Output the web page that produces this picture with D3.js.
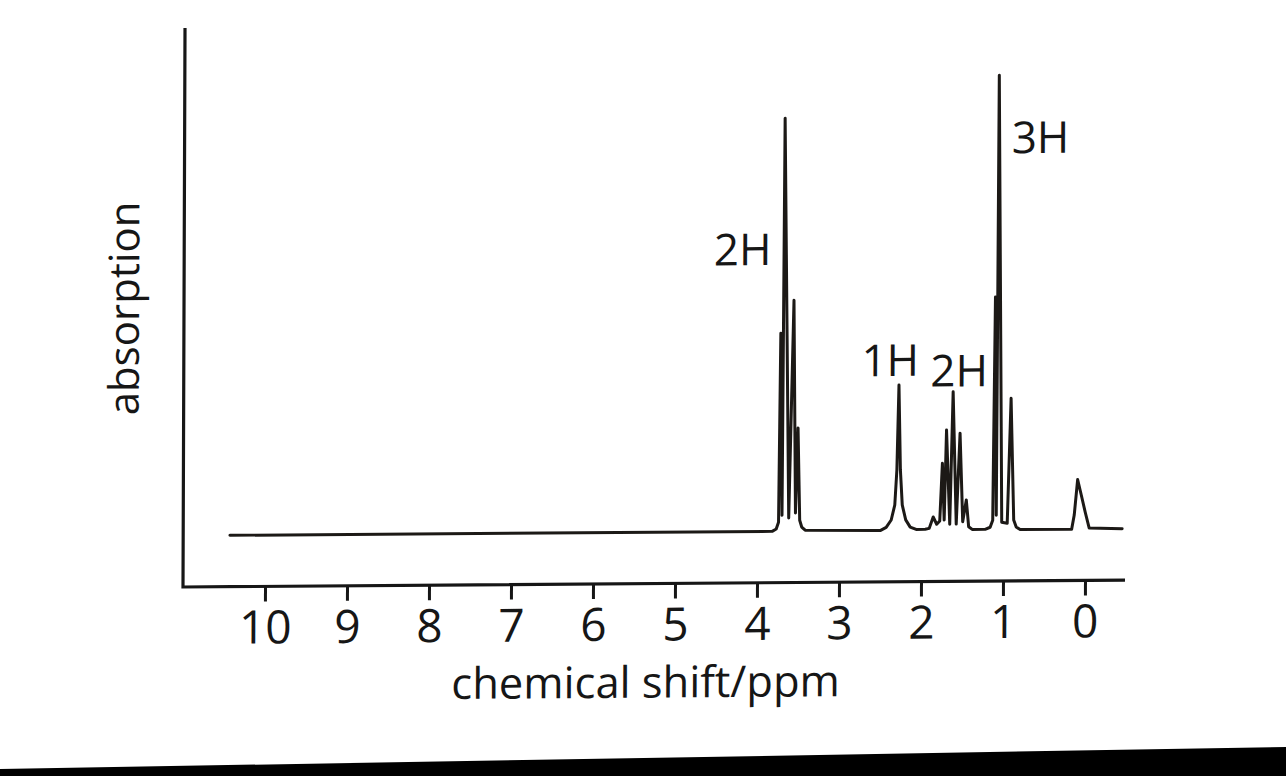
<!DOCTYPE html>
<html>
<head>
<meta charset="utf-8">
<script src="https://cdn.jsdelivr.net/npm/d3@7"></script>
<style>
  html, body { margin: 0; padding: 0; background: #fff; }
  svg { display: block; }
  text { font-family: "Open Sans", "Noto Sans", sans-serif; fill: #161616; }
</style>
</head>
<body>
<svg id="chart" width="1286" height="776"></svg>
<script>
// ---- data ----
const spectrumPpm = [
  10.43, 3.817, 3.768, 3.740, 3.720, 3.698, 3.677, 3.616, 3.561, 3.534, 3.506, 3.482, 3.457, 3.415,
  2.500, 2.427, 2.366, 2.323, 2.299, 2.277, 2.256, 2.232, 2.189, 2.134, 2.061,
  1.951, 1.902, 1.854, 1.811, 1.774, 1.744, 1.720, 1.695, 1.652, 1.616, 1.573, 1.530, 1.494, 1.451, 1.421, 1.378,
  1.220, 1.159, 1.128, 1.104, 1.085, 1.067, 1.018, 0.951, 0.909, 0.872, 0.841, 0.793,
  0.165, 0.134, 0.094, 0.049, 0.000, -0.049, -0.451
];
const spectrumAbs = [
  0, 0, 0.5, 2.0, 43.6, 3.5, 90.9, 2.9, 50.8, 4.0, 22.7, 2.4, 0.9, 0.2,
  0, 0.7, 2.3, 5.6, 13.3, 32.0, 13.3, 5.6, 2.3, 0.7, 0.2,
  0.2, 0.4, 2.9, 1.3, 2.0, 14.7, 2.2, 22.0, 1.3, 30.4, 1.3, 21.3, 1.8, 6.6, 0.7, 0.1,
  0.1, 0.55, 2.1, 51.2, 3.2, 100, 1.65, 1.4, 28.9, 2.1, 0.55, 0,
  0, 3.1, 10.9, 7.5, 3.7, 0.2, 0
];
const tickValues = [10, 9, 8, 7, 6, 5, 4, 3, 2, 1, 0];
const peakLabels = ["2H", "1H", "2H", "3H"];
const labelPpm = [4.19, 2.384, 1.543, 0.561];
const labelAbs = [58.6, 34.0, 31.6, 82.8];
const xTitle = "chemical shift/ppm";
const yTitle = "absorption";

// ---- layout ----
const svg = d3.select("#chart");
svg.append("rect").attr("width", 1286).attr("height", 776).attr("fill", "#fff");

// scan tilt of the printed page
const b = -0.0073, c = -0.0036;
const g = svg.append("g")
  .attr("transform", `matrix(1,${b},${c},1,${-c * 587},${-b * 183})`);

const x = d3.scaleLinear().domain([11.0, -0.488]).range([183, 1125]);
const y = d3.scaleLinear().domain([-11.3, 111.7]).range([587, 28]);

const ink = "#161616";

// axes frame
g.append("path")
  .attr("d", `M${x(11.0)},${y(111.7)} L${x(11.0)},${y(-11.3)} L${x(-0.488)},${y(-11.3)}`)
  .attr("fill", "none").attr("stroke", ink).attr("stroke-width", 3.2)
  .attr("stroke-linejoin", "miter");

// x axis ticks + labels
const xAxis = d3.axisBottom(x).tickValues(tickValues).tickSize(15).tickPadding(8)
  .tickFormat(d3.format("d"));
const ax = g.append("g").attr("transform", `translate(0,${y(-11.3)})`).call(xAxis);
ax.select(".domain").remove();
ax.selectAll(".tick line").attr("stroke", ink).attr("stroke-width", 3);
ax.selectAll(".tick text")
  .attr("y", null).attr("dy", null)
  .attr("transform", "translate(0,57)")
  .attr("font-size", 46).attr("fill", ink)
  .style("font-family", '"Open Sans", sans-serif');

// spectrum
const pts = spectrumPpm.map((p, i) => [p, spectrumAbs[i]]);
const line = d3.line().x(d => x(d[0])).y(d => y(d[1])).curve(d3.curveLinear);
g.append("path").datum(pts)
  .attr("d", line)
  .attr("fill", "none").attr("stroke", "#1c1916").attr("stroke-width", 3)
  .attr("stroke-linejoin", "round").attr("stroke-linecap", "round");

// peak integration labels
g.selectAll("text.peak").data(peakLabels).enter().append("text")
  .attr("class", "peak")
  .attr("x", (d, i) => x(labelPpm[i]))
  .attr("y", (d, i) => y(labelAbs[i]))
  .attr("text-anchor", "middle")
  .attr("font-size", 44)
  .text(d => d);

// axis titles
g.append("text")
  .attr("x", 646).attr("y", 701)
  .attr("text-anchor", "middle").attr("font-size", 43.5)
  .text(xTitle);

g.append("text")
  .attr("transform", "translate(138,308) rotate(-90)")
  .attr("text-anchor", "middle").attr("font-size", 42)
  .text(yTitle);

// dark scanner edge at the bottom of the page
svg.append("path")
  .attr("d", "M0,769 L1286,747 L1286,776 L0,776 Z")
  .attr("fill", "#000");
</script>
</body>
</html>
